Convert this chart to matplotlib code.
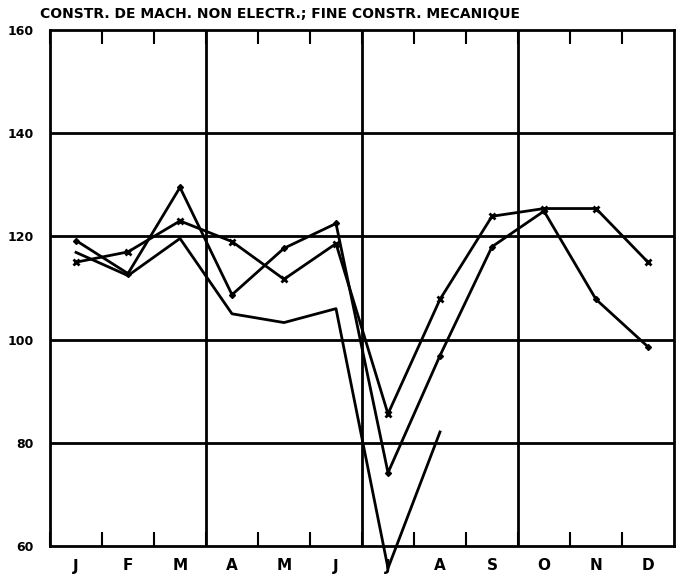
import matplotlib
matplotlib.use('Agg')
import matplotlib.pyplot as plt
import numpy as np

plt.rcParams['font.family'] = ['DejaVu Sans']
plt.rcParams['font.weight'] = 'bold'

# mois
months = ['J', 'F', 'M', 'A', 'M', 'J', 'J', 'A', 'S', 'O', 'N', 'D']
# série avec croix
serie_x = [115, 117, 123, 119, 111.7, 118.6, 85.6, 107.8, 123.9, 125.4, 125.4, 115]
# série avec petits losanges
serie_d = [119.2, 112.8, 129.5, 108.7, 117.7, 122.5, 74.2, 96.9, 118, 124.9, 107.8, 98.6]
# série sans marqueur (s'arrête en août)
serie_n = [116.9, 112.4, 119.6, 105, 103.3, 106, 55.7, 82.1]

title = 'CONSTR. DE MACH. NON ELECTR.; FINE CONSTR. MECANIQUE'

fig = plt.figure(figsize=(6.81, 5.8), dpi=100)
ax = fig.add_axes([50 / 681, 1 - 546 / 580, 624 / 681, 516 / 580])

xs = np.arange(len(months))
ax.plot(xs, serie_x, color='black', lw=2, marker='x', ms=5, mew=2, clip_on=False)
ax.plot(xs, serie_d, color='black', lw=2, marker='D', ms=3, clip_on=False)
ax.plot(xs[:len(serie_n)], serie_n, color='black', lw=2, clip_on=False)

ax.set_xlim(-0.5, 11.5)
ax.set_ylim(60, 160)

# grille horizontale
for y in [80, 100, 120, 140]:
    ax.axhline(y, color='black', lw=2, zorder=0)
# séparation des trimestres
for x in [2.5, 5.5, 8.5]:
    ax.axvline(x, color='black', lw=2, zorder=0)

for s in ax.spines.values():
    s.set_linewidth(2)

ax.set_yticks([60, 80, 100, 120, 140, 160])
ax.set_yticklabels(['60', '80', '100', '120', '140', '160'], fontsize=9, fontweight='bold')
ax.tick_params(axis='y', length=0, pad=12)

ax.set_xticks(np.arange(-0.5, 11.5, 1), minor=True)
ax.set_xticks(xs)
ax.set_xticklabels(months, fontsize=11, fontweight='bold')
ax.tick_params(axis='x', which='major', length=0, pad=9)
ax.tick_params(axis='x', which='minor', direction='in', length=10, width=1.5,
               top=True, bottom=True)

fig.text(40 / 681, 1 - 14 / 580, title, fontsize=10, fontweight='bold', va='center', ha='left')

plt.savefig('out.png', dpi=100)
